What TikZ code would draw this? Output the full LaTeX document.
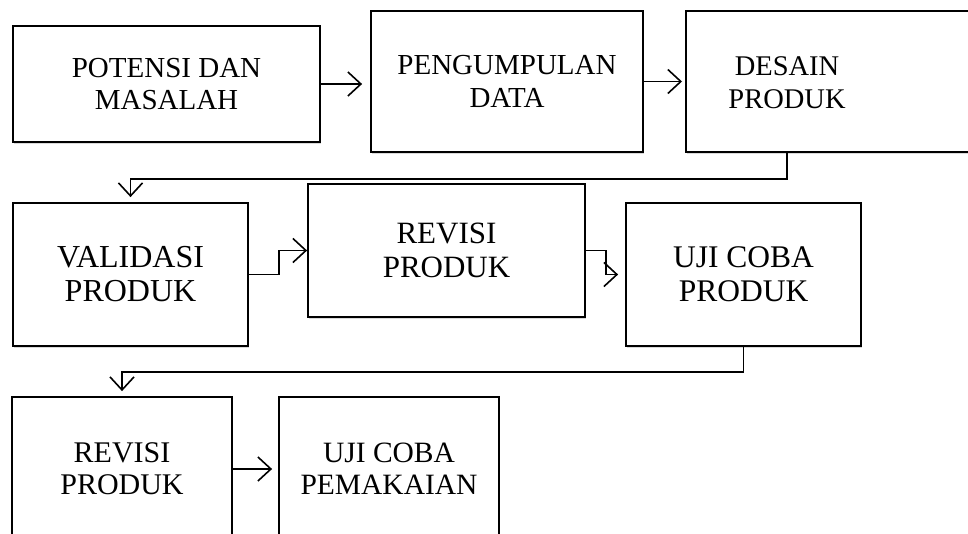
\documentclass[tikz,border=0pt]{standalone}
\usepackage{fontspec}
\setmainfont{Liberation Serif}
\usetikzlibrary{arrows.meta,shadows}
\tikzstyle{box}=[draw,fill=white,line width=1.8pt,inner sep=0pt,align=center,drop shadow={shadow xshift=1pt,shadow yshift=-1.5pt,opacity=.3}]
\tikzstyle{btext}=[align=center,inner sep=0pt]
\tikzstyle{edge}=[draw,line width=1.6pt,-{Straight Barb[length=13pt,width=24pt]}]

\begin{document}
\begin{tikzpicture}[x=1pt,y=-1pt]
\useasboundingbox (0,0) rectangle (968,533);
\clip (0,0) rectangle (968,533);

\node[box,minimum width=307pt,minimum height=116pt,font=\fontsize{29}{32}\selectfont] (1) at (166.5,84) {POTENSI DAN\\MASALAH};
\node[box,minimum width=272pt,minimum height=141pt,font=\fontsize{29}{33}\selectfont] (2) at (507,81.5) {PENGUMPULAN\\DATA};
\node[box,minimum width=330pt,minimum height=141pt,anchor=west] (3) at (685,81.5) {};
\node[btext,font=\fontsize{28.5}{33}\selectfont] (3a) at (787,83) {DESAIN\\PRODUK};

\node[box,minimum width=235pt,minimum height=143pt,font=\fontsize{32}{34}\selectfont] (4) at (130.5,274.5) {VALIDASI\\PRODUK};
\node[box,minimum width=277pt,minimum height=133pt,font=\fontsize{31}{34}\selectfont] (5) at (446.5,250.5) {REVISI\\PRODUK};
\node[box,minimum width=235pt,minimum height=143pt,font=\fontsize{31.5}{34}\selectfont] (6) at (743.5,274.5) {UJI COBA\\PRODUK};

\node[box,minimum width=220pt,minimum height=144pt,font=\fontsize{30}{32}\selectfont] (7) at (122,469) {REVISI\\PRODUK};
\node[box,minimum width=220pt,minimum height=144pt,font=\fontsize{29.5}{32}\selectfont] (8) at (389,469) {UJI COBA\\PEMAKAIAN};

 \path[edge,shorten >=8pt] (1.east) -- (1.east -| 2.west);
 \path[edge,shorten >=3pt] (2.east) -- (2.east -| 3.west);
 \path[edge,shorten >=5pt] (3a |- 3.south) -- ++(0,26) -| (4.north);
 \path[edge] (4.east) -- ++(30,0) |- (5.west);
 \path[edge,shorten >=7pt] (5.east) -- ++(20,0) |- (6.west);
 \path[edge,shorten >=5pt] (6.south) -- ++(0,25) -| (7.north);
 \path[edge,shorten >=6pt] (7.east) -- (8.west);
\end{tikzpicture}
\end{document}
